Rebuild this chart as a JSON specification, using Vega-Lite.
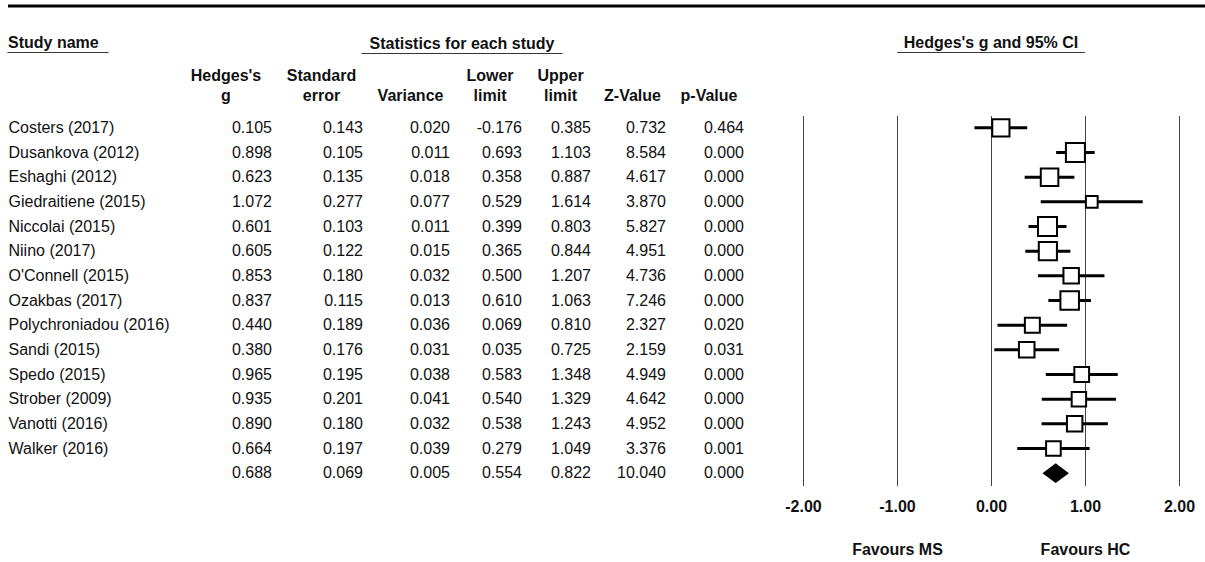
{
  "$schema": "https://vega.github.io/schema/vega-lite/v6.json",
  "padding": {"left": 6, "top": 4, "right": 0, "bottom": 0},
  "background": "white",
  "config": {
    "font": "Liberation Sans",
    "view": {"stroke": null},
    "text": {"font": "Liberation Sans", "fontSize": 16, "color": "#111"},
    "title": {
      "font": "Liberation Sans", "fontSize": 16, "fontWeight": "bold", "color": "#111",
      "baseline": "top", "lineHeight": 20,
      "subtitleFont": "Liberation Sans", "subtitleFontSize": 10, "subtitleFontWeight": "bold",
      "subtitleColor": "#333", "subtitlePadding": 2
    },
    "axis": {"labelFont": "Liberation Sans", "labelFontSize": 16, "labelColor": "#111"},
    "locale": {"number": {"decimal": ".", "thousands": ",", "grouping": [3], "currency": ["$", ""], "minus": "-"}}
  },
  "datasets": {
    "studies": [
      {"study": "Costers (2017)", "kind": "study", "g": 0.105, "se": 0.143, "variance": 0.020, "lower": -0.176, "upper": 0.385, "z": 0.732, "p": 0.464, "weight": 7.95},
      {"study": "Dusankova (2012)", "kind": "study", "g": 0.898, "se": 0.105, "variance": 0.011, "lower": 0.693, "upper": 1.103, "z": 8.584, "p": 0.000, "weight": 9.70},
      {"study": "Eshaghi (2012)", "kind": "study", "g": 0.623, "se": 0.135, "variance": 0.018, "lower": 0.358, "upper": 0.887, "z": 4.617, "p": 0.000, "weight": 8.28},
      {"study": "Giedraitiene (2015)", "kind": "study", "g": 1.072, "se": 0.277, "variance": 0.077, "lower": 0.529, "upper": 1.614, "z": 3.870, "p": 0.000, "weight": 3.72},
      {"study": "Niccolai (2015)", "kind": "study", "g": 0.601, "se": 0.103, "variance": 0.011, "lower": 0.399, "upper": 0.803, "z": 5.827, "p": 0.000, "weight": 9.70},
      {"study": "Niino (2017)", "kind": "study", "g": 0.605, "se": 0.122, "variance": 0.015, "lower": 0.365, "upper": 0.844, "z": 4.951, "p": 0.000, "weight": 8.83},
      {"study": "O'Connell (2015)", "kind": "study", "g": 0.853, "se": 0.180, "variance": 0.032, "lower": 0.500, "upper": 1.207, "z": 4.736, "p": 0.000, "weight": 6.41},
      {"study": "Ozakbas (2017)", "kind": "study", "g": 0.837, "se": 0.115, "variance": 0.013, "lower": 0.610, "upper": 1.063, "z": 7.246, "p": 0.000, "weight": 9.25},
      {"study": "Polychroniadou (2016)", "kind": "study", "g": 0.440, "se": 0.189, "variance": 0.036, "lower": 0.069, "upper": 0.810, "z": 2.327, "p": 0.020, "weight": 6.02},
      {"study": "Sandi (2015)", "kind": "study", "g": 0.380, "se": 0.176, "variance": 0.031, "lower": 0.035, "upper": 0.725, "z": 2.159, "p": 0.031, "weight": 6.52},
      {"study": "Spedo (2015)", "kind": "study", "g": 0.965, "se": 0.195, "variance": 0.038, "lower": 0.583, "upper": 1.348, "z": 4.949, "p": 0.000, "weight": 5.85},
      {"study": "Strober (2009)", "kind": "study", "g": 0.935, "se": 0.201, "variance": 0.041, "lower": 0.540, "upper": 1.329, "z": 4.642, "p": 0.000, "weight": 5.60},
      {"study": "Vanotti (2016)", "kind": "study", "g": 0.890, "se": 0.180, "variance": 0.032, "lower": 0.538, "upper": 1.243, "z": 4.952, "p": 0.000, "weight": 6.41},
      {"study": "Walker (2016)", "kind": "study", "g": 0.664, "se": 0.197, "variance": 0.039, "lower": 0.279, "upper": 1.049, "z": 3.376, "p": 0.001, "weight": 5.76},
      {"study": "Combined", "kind": "summary", "g": 0.688, "se": 0.069, "variance": 0.005, "lower": 0.554, "upper": 0.822, "z": 10.040, "p": 0.000, "weight": null}
    ]
  },
  "vconcat": [
    {
      "width": 1199,
      "height": 1,
      "data": {"values": [{"edge": 1}]},
      "mark": {"type": "rule", "color": "black", "strokeWidth": 3},
      "encoding": {
        "y": {"field": "edge", "type": "quantitative", "scale": {"domain": [0, 1]}, "axis": null}
      }
    },
    {
      "hconcat": [
        {
          "hconcat": [
            {
              "width": 168,
              "height": 370,
              "title": {"text": "Study name", "subtitle": "‾‾‾‾‾‾‾‾‾‾‾‾‾‾‾‾‾‾‾‾‾‾‾‾‾‾‾‾‾‾", "anchor": "start", "frame": "group", "offset": 52.3},
              "data": {"name": "studies"},
              "mark": {"type": "rule", "strokeOpacity": 0},
              "encoding": {
                "y": {
                  "field": "study", "type": "nominal",
                  "scale": {"domain": ["Costers (2017)", "Dusankova (2012)", "Eshaghi (2012)", "Giedraitiene (2015)", "Niccolai (2015)", "Niino (2017)", "O'Connell (2015)", "Ozakbas (2017)", "Polychroniadou (2016)", "Sandi (2015)", "Spedo (2015)", "Strober (2009)", "Vanotti (2016)", "Walker (2016)", "Combined"], "paddingInner": 0, "paddingOuter": 0},
                  "axis": {
                    "labelAlign": "left", "labelPadding": 0, "ticks": false, "tickSize": 0,
                    "domain": false, "grid": false, "title": null, "labelLimit": 0,
                    "labelOverlap": false, "labelBaseline": "middle",
                    "labelExpr": "datum.value === 'Combined' ? '' : datum.value"
                  }
                }
              }
            },
            {
              "title": {"text": "Statistics for each study", "subtitle": "‾‾‾‾‾‾‾‾‾‾‾‾‾‾‾‾‾‾‾‾‾‾‾‾‾‾‾‾‾‾‾‾‾‾‾‾‾‾‾‾‾‾‾‾‾‾‾‾‾‾‾‾‾‾‾‾‾‾‾‾", "anchor": "middle", "offset": 4},
              "spacing": 0,
              "bounds": "flush",
              "data": {"name": "studies"},
              "hconcat": [
                {
                  "width": 100, "height": 370,
                  "title": {"text": ["Hedges's", "g"], "frame": "group", "offset": 12},
                  "mark": {"type": "text", "x": "width", "align": "right", "dx": -4},
                  "encoding": {
                    "y": {"field": "study", "type": "nominal", "sort": null, "scale": {"paddingInner": 0, "paddingOuter": 0}, "axis": null},
                    "text": {"field": "g", "type": "quantitative", "format": ".3f"}
                  }
                },
                {
                  "width": 91, "height": 370,
                  "title": {"text": ["Standard", "error"], "frame": "group", "offset": 12},
                  "mark": {"type": "text", "x": "width", "align": "right", "dx": -4},
                  "encoding": {
                    "y": {"field": "study", "type": "nominal", "sort": null, "scale": {"paddingInner": 0, "paddingOuter": 0}, "axis": null},
                    "text": {"field": "se", "type": "quantitative", "format": ".3f"}
                  }
                },
                {
                  "width": 87, "height": 370,
                  "title": {"text": "Variance", "frame": "group", "offset": 12},
                  "mark": {"type": "text", "x": "width", "align": "right", "dx": -4},
                  "encoding": {
                    "y": {"field": "study", "type": "nominal", "sort": null, "scale": {"paddingInner": 0, "paddingOuter": 0}, "axis": null},
                    "text": {"field": "variance", "type": "quantitative", "format": ".3f"}
                  }
                },
                {
                  "width": 72, "height": 370,
                  "title": {"text": ["Lower", "limit"], "frame": "group", "offset": 12},
                  "mark": {"type": "text", "x": "width", "align": "right", "dx": -4},
                  "encoding": {
                    "y": {"field": "study", "type": "nominal", "sort": null, "scale": {"paddingInner": 0, "paddingOuter": 0}, "axis": null},
                    "text": {"field": "lower", "type": "quantitative", "format": ".3f"}
                  }
                },
                {
                  "width": 69, "height": 370,
                  "title": {"text": ["Upper", "limit"], "frame": "group", "offset": 12},
                  "mark": {"type": "text", "x": "width", "align": "right", "dx": -4},
                  "encoding": {
                    "y": {"field": "study", "type": "nominal", "sort": null, "scale": {"paddingInner": 0, "paddingOuter": 0}, "axis": null},
                    "text": {"field": "upper", "type": "quantitative", "format": ".3f"}
                  }
                },
                {
                  "width": 75, "height": 370,
                  "title": {"text": "Z-Value", "frame": "group", "offset": 12},
                  "mark": {"type": "text", "x": "width", "align": "right", "dx": -4},
                  "encoding": {
                    "y": {"field": "study", "type": "nominal", "sort": null, "scale": {"paddingInner": 0, "paddingOuter": 0}, "axis": null},
                    "text": {"field": "z", "type": "quantitative", "format": ".3f"}
                  }
                },
                {
                  "width": 78, "height": 370,
                  "title": {"text": "p-Value", "frame": "group", "offset": 12},
                  "mark": {"type": "text", "x": "width", "align": "right", "dx": -4},
                  "encoding": {
                    "y": {"field": "study", "type": "nominal", "sort": null, "scale": {"paddingInner": 0, "paddingOuter": 0}, "axis": null},
                    "text": {"field": "p", "type": "quantitative", "format": ".3f"}
                  }
                }
              ]
            }
          ],
          "spacing": 0,
          "bounds": "flush"
        },
        {
          "width": 376,
          "height": 370,
          "title": {"text": "Hedges's g and 95% CI", "subtitle": "‾‾‾‾‾‾‾‾‾‾‾‾‾‾‾‾‾‾‾‾‾‾‾‾‾‾‾‾‾‾‾‾‾‾‾‾‾‾‾‾‾‾‾‾‾‾‾‾‾‾‾‾‾‾‾‾", "anchor": "middle", "frame": "group", "offset": 52.3},
          "data": {"name": "studies"},
          "encoding": {
            "y": {
              "field": "study", "type": "nominal",
              "scale": {"domain": ["Costers (2017)", "Dusankova (2012)", "Eshaghi (2012)", "Giedraitiene (2015)", "Niccolai (2015)", "Niino (2017)", "O'Connell (2015)", "Ozakbas (2017)", "Polychroniadou (2016)", "Sandi (2015)", "Spedo (2015)", "Strober (2009)", "Vanotti (2016)", "Walker (2016)", "Combined"], "paddingInner": 0, "paddingOuter": 0},
              "axis": null
            }
          },
          "layer": [
            {
              "transform": [{"filter": "datum.kind === 'study'"}],
              "layer": [
                {
                  "mark": {"type": "rule", "color": "black", "strokeWidth": 3},
                  "encoding": {
                    "x": {
                      "field": "lower", "type": "quantitative",
                      "scale": {"domain": [-2, 2], "nice": false, "zero": false},
                      "axis": {
                        "values": [-2, -1, 0, 1, 2], "format": ".2f", "grid": true, "gridColor": "#444", "gridWidth": 1,
                        "domain": false, "ticks": false, "tickSize": 0, "labelPadding": 13,
                        "labelFontWeight": "bold", "labelFlush": false, "labelOverlap": false, "title": null
                      }
                    },
                    "x2": {"field": "upper"}
                  }
                },
                {
                  "mark": {"type": "point", "shape": "square", "filled": true, "fill": "white", "stroke": "black", "strokeWidth": 2, "opacity": 1},
                  "encoding": {
                    "x": {"field": "g", "type": "quantitative"},
                    "size": {"field": "weight", "type": "quantitative", "scale": {"domain": [0, 10], "range": [0, 372]}, "legend": null}
                  }
                }
              ]
            },
            {
              "transform": [{"filter": "datum.kind === 'summary'"}],
              "mark": {"type": "point", "shape": "M-1,0L0,-0.75L1,0L0,0.75Z", "filled": true, "color": "black", "opacity": 1, "size": 700},
              "encoding": {
                "x": {
                  "field": "g", "type": "quantitative",
                  "scale": {"domain": [-2, 2], "nice": false, "zero": false},
                  "axis": {
                    "orient": "bottom", "values": [-1, 1],
                    "labelExpr": "datum.value < 0 ? 'Favours MS' : 'Favours HC'",
                    "grid": false, "domain": false, "ticks": false, "tickSize": 0, "labelPadding": 56,
                    "labelFontWeight": "bold", "labelFlush": false, "labelOverlap": false, "title": null
                  }
                }
              }
            }
          ],
          "resolve": {"scale": {"x": "independent"}, "axis": {"x": "independent"}}
        }
      ],
      "spacing": 36,
      "bounds": "full"
    }
  ],
  "spacing": 108.5,
  "bounds": "flush"
}
